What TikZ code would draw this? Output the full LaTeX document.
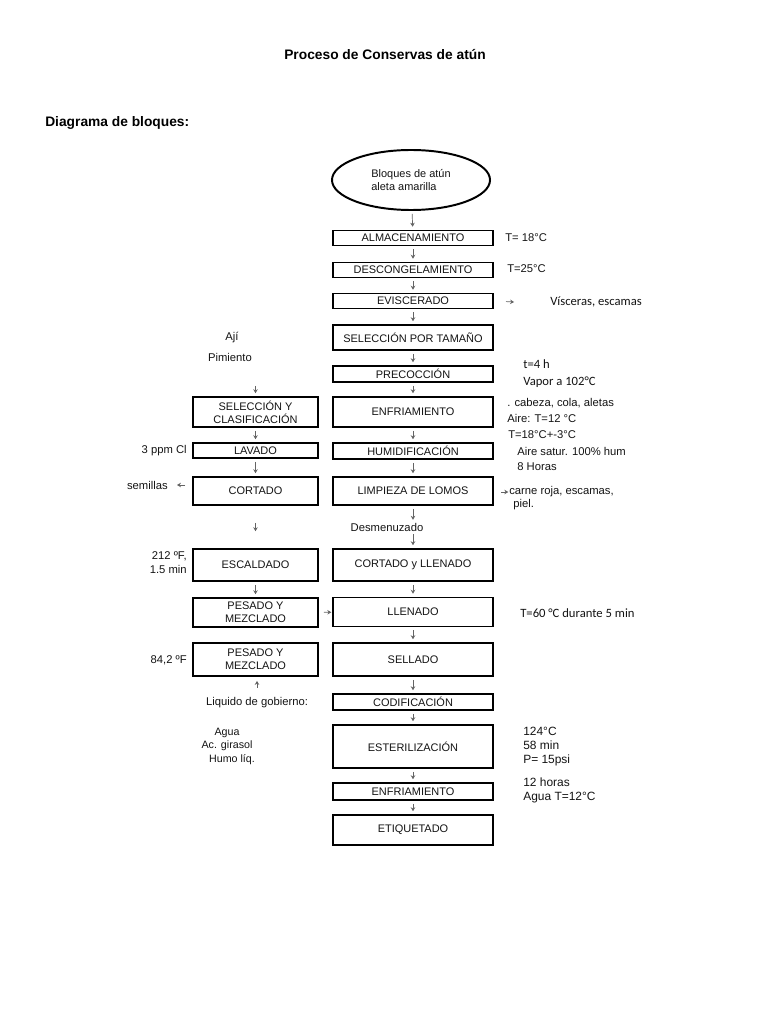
\documentclass[tikz,border=0pt]{standalone}
\usepackage{fontspec}
\setmainfont{Liberation Sans}
\newfontfamily\calibri{Carlito}
\usetikzlibrary{shapes.geometric, arrows.meta, positioning, calc}
\definecolor{arrowgray}{RGB}{100, 100, 100}
\definecolor{inkdark}{RGB}{20, 20, 20}
\tikzset{
    box/.style={
        rectangle, draw=black, line width=1.4pt, minimum width=4cm,
        inner sep=0pt, align=center, text=inkdark,
        font=\fontsize{7.8}{9}\selectfont
    },
    leftbox/.style={box, minimum width=3.125cm},
    startblob/.style={ellipse, draw=black, line width=1.4pt, minimum width=3.95cm,
        minimum height=1.5cm, align=left, text=inkdark, font=\fontsize{7.8}{9.5}\selectfont},
    arrow/.style={-{Stealth[length=2.8pt, width=3.2pt]}, line width=0.5pt,
        color=arrowgray, shorten <=2pt, shorten >=2pt},
    note/.style={font=\fontsize{8}{10}\selectfont, text=inkdark, inner sep=0pt},
    calnote/.style={font=\calibri\fontsize{9}{11}\selectfont, text=inkdark, inner sep=0pt},
    heading/.style={font=\fontsize{9.8}{12}\selectfont\bfseries, inner sep=0pt},
}
\begin{document}
\begin{tikzpicture}[x=0.025cm, y=-0.025cm]
    \fill[white] (0,0) rectangle (768,1024);
    \useasboundingbox (0,0) rectangle (768,1024);

    \node[heading] (title) at (385,55) {Proceso de Conservas de atún};
    \node[heading, anchor=west] (subtitle) at (45,123) {Diagrama de bloques:};

    % main line
    \node[startblob] (tuna) at (411,180) {Bloques de atún\\aleta amarilla};
    \node[box, minimum height=0.375cm] (almac) at (413,238) {ALMACENAMIENTO};
    \node[box, minimum height=0.375cm] (descong) at (413,270) {DESCONGELAMIENTO};
    \node[box, minimum height=0.375cm] (evisc) at (413,301) {EVISCERADO};
    \node[box, minimum height=0.625cm] (seltam) at (413,337.5) {SELECCIÓN POR TAMAÑO};
    \node[box, minimum height=0.4cm] (precoc) at (413,374) {PRECOCCIÓN};
    \node[box, minimum height=0.75cm] (enfria) at (413,412) {ENFRIAMIENTO};
    \node[box, minimum height=0.4cm] (humid) at (413,451) {HUMIDIFICACIÓN};
    \node[box, minimum height=0.7cm] (limpieza) at (413,491) {LIMPIEZA DE LOMOS};
    \node[note] (desmen) at (387,527) {Desmenuzado};
    \node[box, minimum height=0.8cm] (cortllen) at (413,565) {CORTADO y LLENADO};
    \node[box, minimum height=0.725cm] (llenado) at (413,612) {LLENADO};
    \node[box, minimum height=0.825cm] (sellado) at (413,659.5) {SELLADO};
    \node[box, minimum height=0.4cm] (codif) at (413,702) {CODIFICACIÓN};
    \node[box, minimum height=1.075cm] (esteril) at (413,746.5) {ESTERILIZACIÓN};
    \node[box, minimum height=0.425cm] (enfria2) at (413,791.5) {ENFRIAMIENTO};
    \node[box, minimum height=0.75cm] (etiq) at (413,830) {ETIQUETADO};

    % side line
    \node[note] (aji) at (232,338) {Ají};
    \node[note] (pimiento) at (230,357) {Pimiento};
    \coordinate (sidein) at (255.5,383);
    \node[leftbox, minimum height=0.75cm] (selclas) at (255.5,412) {SELECCIÓN Y\\CLASIFICACIÓN};
    \node[leftbox, minimum height=0.375cm] (lavado) at (255.5,450.5) {LAVADO};
    \node[leftbox, minimum height=0.7cm] (cortado) at (255.5,491) {CORTADO};
    \node[leftbox, minimum height=0.8cm] (escald) at (255.5,565) {ESCALDADO};
    \node[leftbox, minimum height=0.725cm] (pesado) at (255.5,612.5) {PESADO Y\\MEZCLADO};
    \node[leftbox, minimum height=0.825cm] (pesado2) at (255.5,659.5) {PESADO Y\\MEZCLADO};
    \node[note] (liquido) at (257,703) {Liquido de gobierno:};
    \node[note, font=\fontsize{7.6}{9}\selectfont] (agua) at (227,733) {Agua};
    \node[note, font=\fontsize{7.6}{9}\selectfont] (girasol) at (227,746) {Ac. girasol};
    \node[note, font=\fontsize{7.6}{9}\selectfont] (humo) at (232,760) {Humo líq.};

    % left notes
    \node[note, anchor=east] (cloro) at (187,451) {3 ppm Cl};
    \node[note, anchor=east] (semillas) at (168,485) {semillas};
    \node[note, anchor=east, align=right] (temp212) at (187,563) {212 ºF,\\1.5 min};
    \node[note, anchor=east] (temp84) at (187,660) {84,2 ºF};

    % right notes
    \node[note, anchor=west] (talm) at (505,238) {T= 18°C};
    \node[note, anchor=west] (tdesc) at (507,269) {T=25°C};
    \coordinate (viscend) at (514,302);
    \node[calnote, anchor=west] (visceras) at (550,302) {Vísceras, escamas};
    \node[calnote, anchor=west] (tprec) at (523,364) {t=4 h};
    \node[calnote, anchor=west] (vapor) at (523,382) {Vapor a 102°\kern0pt C};
    \node[note, anchor=west] (cabeza) at (507,403) {. cabeza, cola, aletas};
    \node[note, anchor=west] (aire) at (507,418) {Aire: T=12 °C};
    \node[note, anchor=west] (tenf) at (508,435) {T=18°C+-3°C};
    \node[note, anchor=west] (satur) at (517,451) {Aire satur. 100\% hum};
    \node[note, anchor=west] (horas8) at (517,467) {8 Horas};
    \node[note, anchor=west] (carne) at (509,492) {carne roja, escamas,};
    \node[note, anchor=west] (piel) at (513,505) {piel.};
    \node[calnote, anchor=west] (tllen) at (520,613) {T=60 °\kern0pt C durante 5 min};
    \node[note, anchor=north west, align=left, font=\fontsize{8.5}{9.9}\selectfont] (ester) at (523,727) {124°C\\58 min\\P= 15psi};
    \node[note, anchor=north west, align=left, font=\fontsize{8.5}{9.9}\selectfont] (enfr) at (523,778) {12 horas\\Agua T=12°C};

    % main arrows
    \draw[arrow] (tuna) -- (almac);
    \draw[arrow] (almac) -- (descong);
    \draw[arrow] (descong) -- (evisc);
    \draw[arrow] (evisc) -- (seltam);
    \draw[arrow] (seltam) -- (precoc);
    \draw[arrow] (precoc) -- (enfria);
    \draw[arrow] (enfria) -- (humid);
    \draw[arrow] (humid) -- (limpieza);
    \draw[arrow] (limpieza) -- (limpieza |- desmen.north);
    \draw[arrow] (limpieza |- desmen.south) -- (cortllen);
    \draw[arrow] (cortllen) -- (llenado);
    \draw[arrow] (llenado) -- (sellado);
    \draw[arrow] (sellado) -- (codif);
    \draw[arrow] (codif) -- (esteril);
    \draw[arrow] (esteril) -- (enfria2);
    \draw[arrow] (enfria2) -- (etiq);

    % side arrows
    \draw[arrow] (sidein) -- (selclas);
    \draw[arrow] (selclas) -- (lavado);
    \draw[arrow] (lavado) -- (cortado);
    \draw[arrow, shorten <=0.42cm, shorten >=0.42cm] (cortado) -- (escald);
    \draw[arrow] (escald) -- (pesado);
    \draw[arrow, shorten <=3.5pt, shorten >=0.5pt] (pesado) -- (llenado);
    \draw[arrow, shorten <=7pt, shorten >=2.8pt] (liquido.north) -- (liquido.north |- pesado2.south);
    \draw[arrow, shorten <=0.175cm, shorten >=0.225cm] (cortado.west |- semillas.east) -- (semillas);
    \draw[arrow, shorten <=0.3cm, shorten >=0pt] (evisc.east) -- (viscend);
    \draw[arrow, shorten <=0.175cm, shorten >=0.5pt] (limpieza.east |- carne.west) -- (carne);
\end{tikzpicture}
\end{document}
